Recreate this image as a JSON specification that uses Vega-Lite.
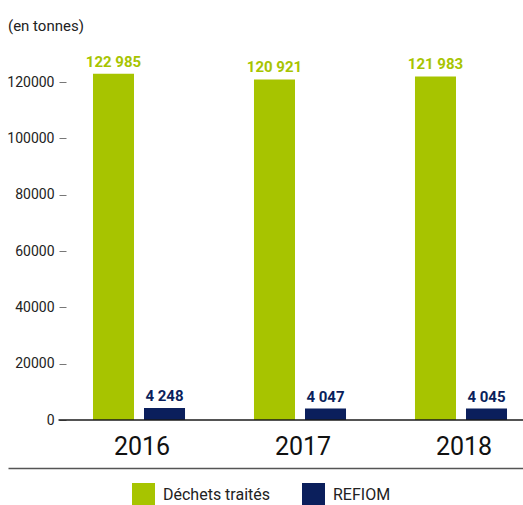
{
  "$schema": "https://vega.github.io/schema/vega-lite/v6.json",
  "width": 515,
  "height": 352,
  "autosize": {"type": "none"},
  "padding": {"left": 8, "top": 68, "right": 0, "bottom": 85},
  "config": {
    "view": {"stroke": null},
    "font": "Roboto",
    "locale": {"number": {"decimal": ",", "thousands": " ", "grouping": [3], "currency": ["", " €"]}}
  },
  "title": {"text": "(en tonnes)", "anchor": "start", "frame": "group", "fontSize": 15, "fontWeight": "normal", "color": "#222222", "offset": 21},
  "data": {
    "values": [
      {"year": "2016", "series": "Déchets traités", "value": 122985},
      {"year": "2016", "series": "REFIOM", "value": 4248},
      {"year": "2017", "series": "Déchets traités", "value": 120921},
      {"year": "2017", "series": "REFIOM", "value": 4047},
      {"year": "2018", "series": "Déchets traités", "value": 121983},
      {"year": "2018", "series": "REFIOM", "value": 4045}
    ]
  },
  "layer": [
    {
      "mark": {"type": "bar"},
      "encoding": {
        "x": {"field": "year", "type": "nominal", "scale": {"range": [0, 584], "paddingInner": 0, "paddingOuter": 0.3137},
          "axis": {"orient": "bottom", "offset": 48, "title": null, "domain": true, "domainColor": "#555555", "domainWidth": 1.5, "ticks": false, "tickSize": 0, "labelFontSize": 25, "labelColor": "#111111", "labelPadding": -14, "labelBaseline": "alphabetic", "labelOffset": 3, "labelAngle": 0}},
        "xOffset": {"field": "series", "type": "nominal", "sort": ["Déchets traités", "REFIOM"], "scale": {"paddingInner": 0.196, "paddingOuter": 0.676}},
        "y": {"field": "value", "type": "quantitative", "scale": {"domain": [0, 125000], "nice": false},
          "axis": {"orient": "left", "offset": -58, "title": null, "domain": false, "grid": false, "ticks": true, "tickSize": 7, "tickColor": "#777777", "labelPadding": 5, "labelFontSize": 14, "labelColor": "#222222", "format": "d", "values": [0, 20000, 40000, 60000, 80000, 100000, 120000]}},
        "color": {"field": "series", "type": "nominal", "sort": ["Déchets traités", "REFIOM"],
          "scale": {"domain": ["Déchets traités", "REFIOM"], "range": ["#a7c400", "#0b1f5c"]},
          "legend": {"orient": "none", "legendX": 124, "legendY": 415, "direction": "horizontal", "title": null, "symbolType": "square", "symbolSize": 529, "symbolStrokeWidth": 0, "symbolOpacity": 1, "labelFontSize": 16, "labelOffset": 8, "columnPadding": 31, "padding": 0, "labelColor": "#222222"}}
      }
    },
    {
      "mark": {"type": "text", "baseline": "alphabetic", "dy": -7, "fontWeight": "bold", "fontSize": 15},
      "encoding": {
        "x": {"field": "year", "type": "nominal"},
        "xOffset": {"field": "series", "type": "nominal", "sort": ["Déchets traités", "REFIOM"]},
        "y": {"field": "value", "type": "quantitative"},
        "text": {"field": "value", "type": "quantitative", "format": ",d"},
        "color": {"field": "series", "type": "nominal", "sort": ["Déchets traités", "REFIOM"]}
      }
    },
    {
      "data": {"values": [{"base": 0}]},
      "mark": {"type": "rule", "color": "#1a1a1a", "strokeWidth": 1.5},
      "encoding": {
        "x": {"datum": "2016", "bandPosition": 0},
        "x2": {"datum": "2018", "bandPosition": 1},
        "y": {"field": "base", "type": "quantitative"}
      }
    }
  ]
}
